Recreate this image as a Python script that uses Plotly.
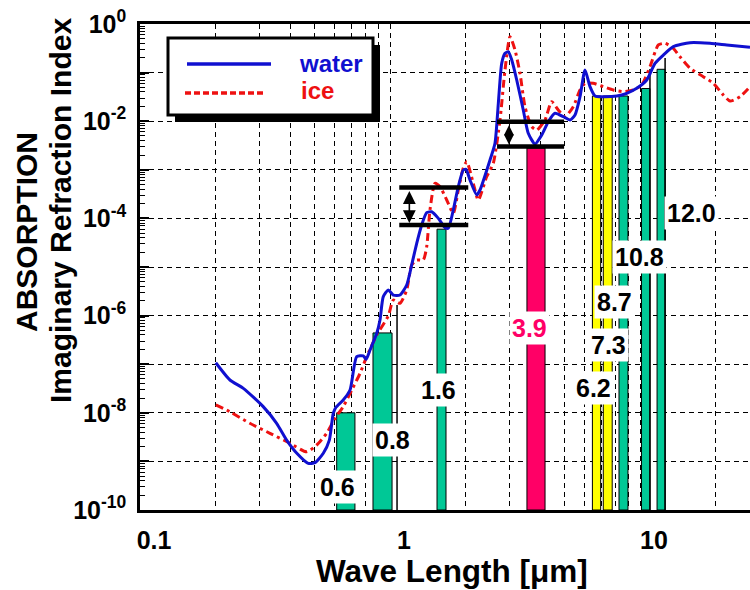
import plotly.graph_objects as go
import math

# ---------------- data ----------------
water_wl = [0.201, 0.229, 0.259, 0.311, 0.352, 0.386, 0.424, 0.471, 0.501, 0.541,
            0.572, 0.593, 0.608, 0.650, 0.692, 0.736, 0.782, 0.802, 0.832, 0.885,
            0.912, 0.940, 0.984, 1.031, 1.096, 1.166, 1.221, 1.279, 1.339, 1.402,
            1.468, 1.561, 1.660, 1.711, 1.791, 1.876, 1.964, 2.014, 2.089, 2.222,
            2.291, 2.512, 2.630, 2.712, 2.798, 2.884, 2.972, 3.069, 3.213, 3.412,
            3.573, 3.802, 4.044, 4.296, 4.571, 4.932, 5.248, 5.495, 5.754, 6.026,
            6.31, 6.607, 7.129, 8.07, 8.85, 9.70, 10.64, 11.48, 12.40, 13.59,
            15.85, 19.05, 22.23, 27.54]
water_k = [1.07e-7, 4.73e-8, 3.19e-8, 1.34e-8, 6.08e-9, 2.75e-9, 1.47e-9, 9.1e-10, 9.4e-10, 1.47e-9,
           2.75e-9, 9.8e-9, 1.30e-8, 1.83e-8, 2.94e-8, 1.43e-7, 1.48e-7, 1.26e-7, 1.96e-7, 4.32e-7,
           8.1e-7, 2.45e-6, 3.36e-6, 2.65e-6, 2.65e-6, 4.26e-6, 1.10e-5, 3.07e-5, 7.31e-5, 1.31e-4,
           1.37e-4, 1.00e-4, 6.44e-5, 6.25e-5, 1.49e-4, 4.49e-4, 9.9e-4, 1.02e-3, 6.17e-4, 3.03e-4,
           3.84e-4, 1.59e-3, 3.51e-3, 2.34e-2, 0.155, 0.249, 0.269, 0.182, 0.0705, 0.0170,
           5.64e-3, 3.40e-3, 5.20e-3, 9.77e-3, 0.01455, 0.01238, 0.0106, 0.01342, 0.0319, 0.113,
           0.0513, 0.033, 0.0319, 0.033, 0.0375, 0.0475, 0.0705, 0.155, 0.230, 0.341,
           0.412, 0.401, 0.370, 0.332]

ice_wl = [0.201, 0.229, 0.275, 0.331, 0.398, 0.464, 0.509, 0.558, 0.603, 0.650,
          0.703, 0.759, 0.807, 0.885, 0.984, 1.031, 1.096, 1.166, 1.221, 1.279,
          1.358, 1.402, 1.445, 1.514, 1.585, 1.686, 1.791, 1.876, 1.964, 2.028,
          2.153, 2.255, 2.436, 2.588, 2.754, 2.884, 3.020, 3.162, 3.311, 3.467,
          3.687, 3.861, 4.169, 4.433, 4.710, 5.012, 5.408, 5.754, 6.026, 6.50,
          7.129, 7.82, 8.57, 9.40, 10.16, 10.96, 11.84, 12.59, 13.59, 14.45,
          15.85, 17.91, 19.64, 21.54, 22.91, 25.12, 27.54]
ice_k = [1.45e-8, 1.05e-8, 6.08e-9, 3.79e-9, 2.36e-9, 1.58e-9, 2.17e-9, 3.79e-9, 7.7e-9, 1.34e-8,
         2.94e-8, 6.5e-8, 1.43e-7, 3.99e-7, 9.8e-7, 2.09e-6, 1.79e-6, 3.36e-6, 1.10e-5, 1.39e-5,
         1.39e-5, 2.62e-5, 1.49e-4, 5.27e-4, 4.49e-4, 2.39e-4, 1.27e-4, 3.84e-4, 1.09e-3, 1.47e-3,
         5.27e-4, 2.39e-4, 7.2e-4, 1.36e-3, 0.0106, 0.113, 0.548, 0.292, 0.0968, 0.0199,
         7.7e-3, 6.59e-3, 0.0106, 0.0252, 0.0170, 0.0124, 0.0199, 0.0439, 0.0602, 0.0602,
         0.0513, 0.0439, 0.0405, 0.0439, 0.0556, 0.132, 0.370, 0.401, 0.316, 0.212,
         0.123, 0.0823, 0.0602, 0.0346, 0.0260, 0.0319, 0.0513]

band_labels = ["0.6", "0.8", "1.6", "3.9", "6.2", "7.3", "8.7", "10.8", "12.0"]
band_left = [0.612, 0.855, 1.542, 3.53, 6.45, 7.13, 8.24, 10.14, 11.7]
band_right = [0.724, 1.019, 1.675, 4.17, 6.96, 7.74, 8.95, 10.96, 12.6]
band_top = [1.0e-8, 4.4e-7, 6.0e-5, 2.8e-3, 0.033, 0.033, 0.033, 0.047, 0.117]
band_kind = ["vis", "vis", "vis", "mir", "wv", "wv", "tir", "tir", "tir"]
label_wl = [0.619, 1.019, 1.57, 3.63, 6.49, 7.45, 7.94, 9.91, 16.0]
label_k = [2.95e-10, 2.75e-9, 2.95e-8, 5.5e-7, 3.24e-8, 2.5e-7, 1.9e-6, 1.62e-5, 1.29e-4]

edge_wl = [1.067, 10.96, 12.6]
edge_top = [1.66e-6, 0.1186, 0.20]

bracket_x0 = [1.089, 2.68]
bracket_x1 = [2.056, 4.97]
bracket_hi = [4.3e-4, 9.8e-3]
bracket_lo = [7.3e-5, 3.0e-3]
arrow_wl = [1.195, 2.99]
arrow_size = [1.6, 1.25]

x_grid = [0.1, 0.2, 0.3, 0.4, 0.5, 0.6, 0.7, 0.8, 0.9,
          1, 2, 3, 4, 5, 6, 7, 8, 9, 10, 20]
x_text = ["0.1", "", "", "", "", "", "", "", "",
          "1", "", "", "", "", "", "", "", "", "10", ""]
y_exp = list(range(0, -11, -1))

# ---------------- styling ----------------
FONT = "Liberation Sans, Arial, Helvetica, sans-serif"
BLUE = "#1010d0"
RED = "#ee1111"
PINK = "#ff0066"
COLORS = {"vis": "#00c896", "tir": "#00c896", "mir": "#ff0066", "wv": "#ffff00"}
K_MIN = 1e-10

fig = go.Figure()

# bars (bands)
for l, r, t, kind in zip(band_left, band_right, band_top, band_kind):
    fig.add_trace(go.Scatter(
        x=[l, l, r, r, l], y=[K_MIN, t, t, K_MIN, K_MIN],
        mode="lines", fill="toself", fillcolor=COLORS[kind],
        line=dict(color="black", width=1.0), hoverinfo="skip", showlegend=False))

for xw, t in zip(edge_wl, edge_top):
    fig.add_trace(go.Scatter(x=[xw, xw], y=[K_MIN, t], mode="lines",
                             line=dict(color="black", width=1.5),
                             hoverinfo="skip", showlegend=False))

# curves
fig.add_trace(go.Scatter(x=ice_wl, y=ice_k, mode="lines", name="ice",
                         line=dict(color=RED, width=3, dash="8px,4px,3px,4px",
                                   shape="spline", smoothing=0.6),
                         showlegend=False))
fig.add_trace(go.Scatter(x=water_wl, y=water_k, mode="lines", name="water",
                         line=dict(color=BLUE, width=3, shape="spline", smoothing=0.6),
                         showlegend=False))

# brackets
for x0, x1, hi, lo in zip(bracket_x0, bracket_x1, bracket_hi, bracket_lo):
    for yy in (hi, lo):
        fig.add_trace(go.Scatter(x=[x0, x1], y=[yy, yy], mode="lines",
                                 line=dict(color="black", width=4.5),
                                 hoverinfo="skip", showlegend=False))

annotations = []
for xa, hi, lo, asz in zip(arrow_wl, bracket_hi, bracket_lo, arrow_size):
    annotations.append(dict(
        x=math.log10(xa), y=math.log10(lo), ax=math.log10(xa), ay=math.log10(hi),
        xref="x", yref="y", axref="x", ayref="y", text="", showarrow=True,
        arrowhead=2, startarrowhead=2, arrowside="end+start", arrowsize=asz,
        startarrowsize=asz, arrowwidth=1.6, arrowcolor="black",
        standoff=2, startstandoff=2))

for lab, xw, kv, kind in zip(band_labels, label_wl, label_k, band_kind):
    annotations.append(dict(
        x=math.log10(xw), y=math.log10(kv), xref="x", yref="y", text=lab,
        showarrow=False, bgcolor="white", borderpad=2,
        font=dict(family=FONT, size=25, weight="bold",
                  color=PINK if kind == "mir" else "black")))

# axis titles (pixel placement converted to paper units)
def px(v):
    return (v - 140) / 610

def py(v):
    return (510 - v) / 486

annotations.append(dict(
    x=px(26), y=py(232), xref="paper", yref="paper",
    text="ABSORPTION", textangle=-90,
    showarrow=False, xanchor="center", yanchor="middle",
    font=dict(family=FONT, size=30, weight="bold", color="black")))
annotations.append(dict(
    x=px(61), y=py(211), xref="paper", yref="paper",
    text="Imaginary Refraction Index", textangle=-90,
    showarrow=False, xanchor="center", yanchor="middle",
    font=dict(family=FONT, size=30, weight="bold", color="black")))
annotations.append(dict(
    x=px(452), y=py(571), xref="paper", yref="paper",
    text="Wave Length [μm]", showarrow=False, xanchor="center", yanchor="middle",
    font=dict(family=FONT, size=31.5, weight="bold", color="black")))

# legend (custom)
shapes = [
    dict(type="rect", xref="paper", yref="paper", x0=px(175), x1=px(380), y0=py(122), y1=py(45),
         fillcolor="black", line=dict(width=0)),
    dict(type="rect", xref="paper", yref="paper", x0=px(168), x1=px(373), y0=py(115), y1=py(38),
         fillcolor="white", line=dict(color="black", width=3)),
    dict(type="line", xref="paper", yref="paper", x0=px(187), x1=px(271), y0=py(64), y1=py(64),
         line=dict(color=BLUE, width=3.5)),
    dict(type="line", xref="paper", yref="paper", x0=px(185), x1=px(266), y0=py(93), y1=py(93),
         line=dict(color=RED, width=3.5, dash="6px,3px")),
]
annotations.append(dict(x=px(297), y=py(63), xref="paper", yref="paper", text="water",
                        showarrow=False, xanchor="left", yanchor="middle",
                        font=dict(family=FONT, size=24, weight="bold", color=BLUE)))
annotations.append(dict(x=px(299), y=py(91), xref="paper", yref="paper", text="ice",
                        showarrow=False, xanchor="left", yanchor="middle",
                        font=dict(family=FONT, size=24, weight="bold", color=RED)))

fig.update_layout(
    width=750, height=590,
    margin=dict(l=140, r=0, t=24, b=80),
    paper_bgcolor="white", plot_bgcolor="white",
    font=dict(family=FONT, color="black"),
    showlegend=False,
    annotations=annotations,
    shapes=shapes,
    xaxis=dict(type="log", range=[-1, math.log10(27.54)],
               tickvals=x_grid, ticktext=x_text, ticks="",
               tickfont=dict(family=FONT, size=25, weight="bold", color="black"),
               ticklabelshift=14, ticklabelstandoff=6,
               showgrid=True, gridcolor="black", gridwidth=1, griddash="5px,4px",
               showline=True, linecolor="black", linewidth=2.5, mirror=True,
               zeroline=False),
    yaxis=dict(type="log", range=[-10, 0],
               tickvals=[10 ** e for e in y_exp],
               ticktext=[("10<sup>%d</sup>" % e) if e % 2 == 0 else "" for e in y_exp],
               ticks="inside", ticklen=9, tickwidth=1.5, tickcolor="black",
               minor=dict(ticks="inside", ticklen=5, tickwidth=1, tickcolor="black",
                          dtick="D1", showgrid=False),
               tickfont=dict(family=FONT, size=25, weight="bold", color="black"),
               ticklabelstandoff=6,
               showgrid=True, gridcolor="black", gridwidth=1, griddash="5px,4px",
               showline=True, linecolor="black", linewidth=2.5, mirror=False,
               zeroline=False),
)

fig.write_html("out.html", config={"displayModeBar": False},
               post_script="document.body.style.margin='0';document.body.style.overflow='hidden';")
